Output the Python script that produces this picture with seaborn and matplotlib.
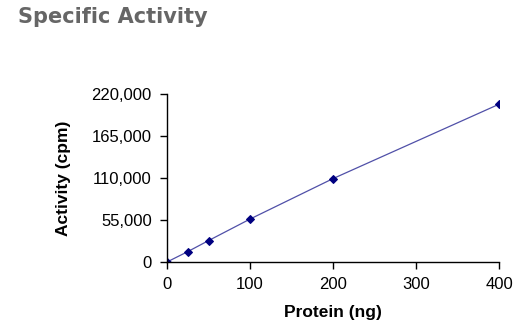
import matplotlib
matplotlib.use("Agg")
import matplotlib.pyplot as plt
import seaborn as sns
import pandas as pd
from matplotlib.ticker import FuncFormatter

protein_ng = [0, 25, 50, 100, 200, 400]
activity_cpm = [0, 13600, 28000, 56200, 109200, 206600]
x_ticks = [0, 100, 200, 300, 400]
y_ticks = [0, 55000, 110000, 165000, 220000]

sns.set_theme(style="white")
plt.rcParams['font.family'] = ['Liberation Sans', 'DejaVu Sans']

df = pd.DataFrame({"Protein (ng)": protein_ng, "Activity (cpm)": activity_cpm})

fig = plt.figure(figsize=(5.24, 3.32), dpi=100)
ax = fig.add_axes([167/524, 1-262/332, (499-167)/524, (262-94)/332])

sns.lineplot(data=df, x="Protein (ng)", y="Activity (cpm)", ax=ax,
             color="#5050a8", linewidth=0.9, marker="D", markersize=4.2,
             markerfacecolor="#000080", markeredgecolor="#000080")

ax.set_xlim(0, 400)
ax.set_ylim(0, 220000)
ax.set_xticks(x_ticks)
ax.set_yticks(y_ticks)
ax.yaxis.set_major_formatter(FuncFormatter(lambda v, p: f"{int(v):,}"))
for s in ["top", "right"]:
    ax.spines[s].set_visible(False)
for s in ["left", "bottom"]:
    ax.spines[s].set_color("black")
    ax.spines[s].set_linewidth(1.0)
ax.tick_params(axis="both", direction="out", length=5, width=1, color="black",
               labelsize=12, pad=6, bottom=True, left=True, labelcolor="black")
ax.set_xlabel("Protein (ng)", fontsize=12.5, fontweight="bold", labelpad=9, color="black")
ax.set_ylabel("Activity (cpm)", fontsize=12.5, fontweight="bold", labelpad=15, color="black")

fig.text(18/524, 1-7/332, "Specific Activity", fontsize=15, fontweight="bold",
         color="#666666", ha="left", va="top", family=["DejaVu Sans"])

fig.savefig("out.png", dpi=100)
